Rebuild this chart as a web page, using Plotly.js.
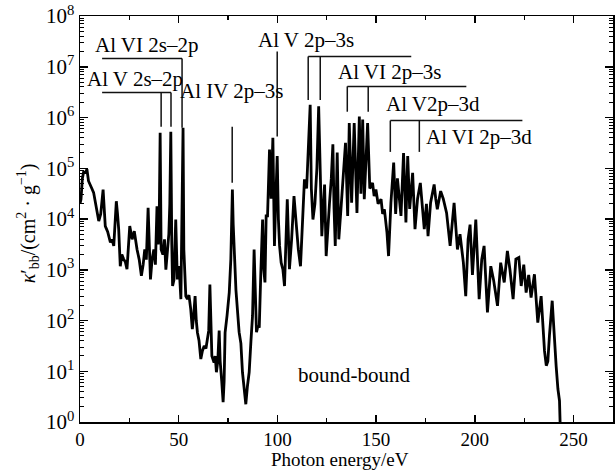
<!DOCTYPE html>
<html>
<head>
<meta charset="utf-8">
<script src="https://cdn.plot.ly/plotly-3.0.1.min.js"></script>
<style>html,body{margin:0;padding:0;background:#fff;}#chart{width:615px;height:472px;}</style>
</head>
<body>
<div id="chart"></div>
<script>
// Photon energy (eV)
const energy = [0.0,0.5,1.2,1.9,2.6,3.5,4.3,5.2,6.0,6.9,8.0,9.5,10.5,11.7,12.8,14.0,15.4,16.2,17.1,18.4,19.0,19.6,20.4,21.2,22.1,23.0,23.8,25.2,26.4,27.5,28.9,30.0,31.1,32.0,32.8,33.6,34.5,35.1,35.7,36.5,37.4,38.2,39.0,39.6,40.1,40.6,41.1,42.0,42.8,43.5,44.3,45.0,45.5,46.0,46.5,46.9,47.6,48.5,49.3,50.2,51.1,51.7,52.2,52.6,53.0,53.6,54.4,55.2,56.1,56.9,57.6,58.3,58.9,59.5,60.3,61.2,62.0,62.9,63.8,64.6,65.2,65.8,66.3,66.8,67.9,68.5,69.1,69.8,70.5,71.0,71.8,72.5,73.0,73.5,74.5,75.6,76.4,77.2,77.6,78.1,79.0,80.6,81.5,82.3,84.0,84.8,85.7,86.6,87.4,88.2,88.8,89.4,90.2,90.8,91.6,92.5,93.1,93.7,94.3,95.0,96.0,96.8,97.7,98.5,99.1,99.9,100.5,101.1,101.9,102.8,103.6,104.3,105.0,106.1,107.2,108.4,109.5,110.6,111.7,112.7,113.7,114.8,115.6,116.6,117.2,118.0,119.0,120.0,120.9,121.7,122.5,123.2,123.9,124.7,125.5,126.4,127.3,128.1,128.7,129.3,130.3,131.1,132.2,133.2,134.5,135.6,136.4,137.6,138.9,140.3,141.5,142.3,143.2,144.0,145.7,146.8,148.2,149.0,149.9,151.0,152.5,153.3,154.2,155.5,156.3,157.5,158.9,159.9,160.8,162.6,163.9,165.1,166.0,167.0,168.5,169.7,171.0,172.4,174.4,175.5,176.3,177.6,179.4,180.2,181.0,182.7,184.0,185.7,187.5,189.5,191.2,192.5,194.2,195.4,196.6,197.6,198.8,200.5,202.2,203.5,204.7,206.4,208.1,209.5,211.5,213.1,214.9,216.5,217.8,219.4,220.8,222.3,223.5,224.8,226.0,227.3,228.5,230.2,231.9,233.6,234.4,235.3,236.2,237.0,237.8,239.2,239.8,240.4,241.2,242.1,242.9,243.2];
// log10 of kappa'_bb (cm^2/g)
const kappaExp = [4.30,4.39,4.80,4.94,4.90,4.98,4.75,4.65,4.60,4.52,4.30,3.96,4.10,4.58,3.86,3.75,3.54,3.60,3.47,4.35,4.10,3.80,3.07,3.30,3.21,3.15,3.01,3.86,3.60,3.76,3.40,3.20,2.88,3.10,3.40,3.20,4.22,3.30,2.81,3.20,3.40,3.10,4.25,3.50,3.90,5.70,3.40,3.30,3.60,3.00,3.50,3.70,4.30,5.72,3.50,2.68,2.80,3.99,2.81,3.07,2.42,3.80,5.80,3.40,3.07,2.48,2.42,2.50,2.22,1.83,2.10,2.48,2.00,1.76,1.60,1.24,1.40,1.50,1.45,1.63,1.80,2.71,1.70,1.30,1.17,1.30,0.98,1.20,1.80,1.20,0.80,0.39,0.80,1.76,2.10,2.55,3.20,4.58,3.90,3.40,2.60,1.77,1.55,0.98,0.35,0.70,0.98,1.60,2.09,3.40,2.40,1.77,1.90,1.86,2.95,3.99,3.00,2.75,4.06,4.06,5.37,4.40,5.60,3.47,4.30,5.24,4.00,3.47,3.14,3.00,2.68,3.50,4.39,3.01,3.60,4.45,3.93,3.40,3.07,4.00,4.78,4.60,5.40,6.25,4.60,3.99,4.30,5.00,6.22,4.80,3.66,4.20,4.68,3.27,3.90,4.32,4.80,5.47,4.20,3.47,5.31,3.60,4.20,4.71,5.50,4.06,5.89,4.32,5.89,4.12,6.02,4.50,5.96,4.39,5.89,4.60,4.71,4.45,4.58,4.30,4.39,4.10,4.19,3.73,3.27,4.32,5.11,4.10,4.80,4.06,5.30,3.93,5.24,4.20,4.91,3.80,4.40,4.71,3.80,4.30,3.66,4.32,4.68,4.40,4.19,4.55,4.40,4.12,3.47,4.32,3.40,3.70,3.14,2.48,3.60,3.89,2.90,3.99,2.42,3.20,3.47,2.16,3.07,2.80,2.29,3.14,2.75,3.37,3.00,2.42,3.21,3.24,2.68,3.10,2.55,2.90,2.45,2.91,1.96,2.48,1.89,1.40,1.11,1.20,1.70,2.39,2.00,1.57,1.10,0.65,0.42,0.00];
const kappa = kappaExp.map(e => Math.pow(10, e));

// Line identifications
const groupLabels = ["Al VI 2s–2p", "Al V 2s–2p", "Al IV 2p–3s", "Al V 2p–3s", "Al VI 2p–3s", "Al V2p–3d", "Al VI 2p–3d"];
const groupLines = [[51.7], [41.1, 46.1], [77.1], [99.9], [115.6, 121.7], [135.4, 146.0], [157.2, 171.9]];
const groupBarStart = [11.2, 11.2, null, null, 115.6, 135.4, 157.2];
const groupBarEnd = [51.7, 46.1, null, null, 167.8, 195.7, 224.1];
const groupTop = [1.45e7, 3.1e6, 6.6e5, 2.0e7, 1.6e7, 4.1e6, 8.7e5];
const groupBottom = [6.3e5, 6.6e5, 5.2e4, 4.2e5, 2.2e6, 1.3e6, 2.1e5];

const yTickVals = [1, 10, 100, 1e3, 1e4, 1e5, 1e6, 1e7, 1e8];
const yTickText = ["10<sup>0</sup>","10<sup>1</sup>","10<sup>2</sup>","10<sup>3</sup>","10<sup>4</sup>","10<sup>5</sup>","10<sup>6</sup>","10<sup>7</sup>","10<sup>8</sup>"];

const FONT = "Liberation Serif, Times New Roman, serif";

const minorVals = [];
for (let d = 0; d < 8; d++) for (let k = 2; k <= 9; k++) minorVals.push(k * Math.pow(10, d));

const shapes = [];
groupLabels.forEach((lab, i) => {
  if (groupBarStart[i] !== null) {
    shapes.push({type:'line', xref:'x', yref:'y', x0:groupBarStart[i], x1:groupBarEnd[i], y0:groupTop[i], y1:groupTop[i], line:{color:'#111', width:1.5}});
  }
  groupLines[i].forEach(xv => {
    shapes.push({type:'line', xref:'x', yref:'y', x0:xv, x1:xv, y0:groupTop[i], y1:groupBottom[i], line:{color:'#111', width:1.5}});
  });
});

// label placement (layout positions: x in eV, y in log10 units)
const labelPos = [[33.5,7.43],[27.9,6.75],[76.6,6.53],[114.6,7.53],[156.7,6.90],[179.0,6.27],[202.3,5.62]];
const annotations = groupLabels.map((lab, i) => ({
  text: lab, xref:'x', yref:'y', x: labelPos[i][0], y: labelPos[i][1],
  showarrow:false, font:{family:FONT, size:21, color:'#000'}, xanchor:'center', yanchor:'middle'
}));
annotations.push({text:'bound-bound', xref:'x', yref:'y', x:138.9, y:0.92, showarrow:false,
  font:{family:FONT, size:21, color:'#000'}, xanchor:'center', yanchor:'middle'});
annotations.push({text:'<i>κ</i>′<sub>bb</sub>/(cm<sup>2</sup> · g<sup>−1</sup>)', xref:'paper', yref:'paper',
  x:-0.097, y:0.49, textangle:-90, showarrow:false, font:{family:FONT, size:20, color:'#000'},
  xanchor:'center', yanchor:'middle'});
annotations.push({text:'Photon energy/eV', xref:'paper', yref:'paper', x:0.487, y:-0.123,
  showarrow:false, font:{family:FONT, size:19, color:'#000'}, xanchor:'center', yanchor:'bottom'});

const trace = {x: energy, y: kappa, type:'scatter', mode:'lines', line:{color:'#000', width:2.8}, hoverinfo:'skip'};

const layout = {
  width:615, height:472,
  margin:{l:80, r:2, t:16, b:50},
  paper_bgcolor:'#fff', plot_bgcolor:'#fff',
  showlegend:false,
  font:{family:FONT, color:'#000'},
  xaxis:{
    range:[0,270], tickmode:'linear', tick0:0, dtick:50,
    ticks:'inside', ticklen:7, tickwidth:1.5, tickcolor:'#000',
    showline:true, linecolor:'#000', linewidth:1.5, mirror:'ticks',
    showgrid:false, zeroline:false,
    tickfont:{family:FONT, size:19, color:'#000'},
    ticklabelstandoff:0,
    minor:{tickmode:'linear', tick0:0, dtick:25, ticks:'inside', ticklen:4, tickwidth:1.2, tickcolor:'#000', showgrid:false}
  },
  yaxis:{
    type:'log', range:[0,8], tickmode:'array', tickvals:yTickVals, ticktext:yTickText,
    ticks:'inside', ticklen:8, tickwidth:1.5, tickcolor:'#000',
    showline:true, linecolor:'#000', linewidth:1.5, mirror:'ticks',
    showgrid:false, zeroline:false,
    tickfont:{family:FONT, size:21, color:'#000'},
    ticklabelstandoff:0,
    minor:{tickmode:'array', tickvals:minorVals, ticks:'inside', ticklen:4, tickwidth:1, tickcolor:'#000', showgrid:false}
  },
  shapes: shapes,
  annotations: annotations
};

Plotly.newPlot('chart', [trace], layout, {displayModeBar:false, staticPlot:true});
</script>
</body>
</html>
